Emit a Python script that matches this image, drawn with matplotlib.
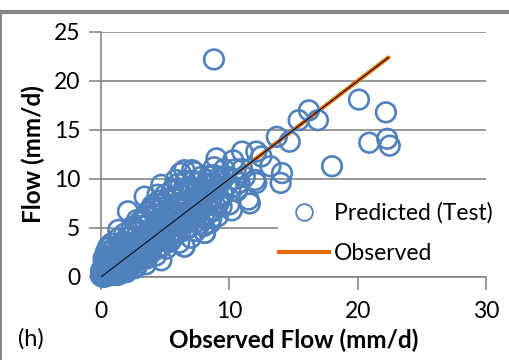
import matplotlib
matplotlib.use("Agg")
import matplotlib.pyplot as plt
from matplotlib.lines import Line2D

plt.rcParams['font.family'] = ['Lato', 'DejaVu Sans']

# Predicted (Test) scatter: observed (x) vs predicted (y)
pred_x = [0.0, 0.1, 0.2, 0.3, 0.1, 0.4, 0.5, 0.2, 0.6, 0.7, 0.3, 0.8, 0.9, 0.5, 1.0, 1.1, 0.4, 0.6,
          1.2, 1.3, 1.5, 1.4, 1.6, 0.8, 1.8, 1.9, 1.7, 2.0, 2.1, 2.2, 2.4, 1.35, 2.1, 2.3, 2.5, 2.6,
          2.8, 2.9, 3.0, 3.1, 3.2, 3.4, 3.3, 3.5, 3.6, 3.7, 3.8, 3.9, 4.0, 4.1, 4.2, 4.3, 4.4, 4.5,
          4.7, 4.6, 4.7, 4.8, 4.9, 5.0, 5.1, 5.2, 5.3, 5.4, 5.5, 5.6, 5.7, 5.8, 5.9, 6.0, 6.1, 6.2,
          6.3, 6.4, 6.5, 6.5, 6.6, 6.7, 6.8, 6.9, 7.0, 7.1, 7.3, 7.2, 7.3, 7.4, 7.5, 7.6, 7.7, 7.8,
          8.0, 8.1, 8.2, 8.3, 8.4, 8.5, 8.6, 8.7, 8.8, 8.9, 9.0, 9.1, 9.2, 9.3, 9.5, 9.6, 9.8, 10.0,
          10.2, 10.3, 10.4, 10.6, 10.8, 11.0, 11.0, 11.2, 11.5, 11.6, 12.0, 12.1, 12.5, 12.1, 13.2,
          13.7, 14.0, 14.1, 14.7, 15.4, 16.2, 16.9, 18.0, 20.1, 20.9, 22.2, 22.3, 22.5, 8.8, 2.65,
          0.57, 6.5, 8.1,
          1.0, 1.2, 1.5, 1.8, 2.0, 2.3, 2.5, 2.7, 3.0, 3.2, 3.4, 3.6, 3.8, 4.0, 4.2, 4.4, 4.6, 4.8,
          5.0, 5.2, 5.4, 5.6, 5.8, 6.0, 6.2, 6.4, 6.6, 6.8, 7.0, 7.2, 7.4, 7.6, 7.8, 8.0, 8.2, 8.4,
          8.6, 8.8, 9.0, 9.4,
          2.0, 2.6, 3.0, 3.5, 4.0, 4.5, 5.0, 5.5, 6.0, 6.6, 7.0, 7.8,
          1.6, 2.2, 2.9, 3.3, 3.9, 4.5, 5.0, 5.6, 6.2, 6.8, 7.4, 8.0, 8.6, 9.4,
          0.1, 0.2, 0.3, 0.0, 0.5, 0.7, 0.3, 0.9, 0.6, 1.0, 0.2, 1.3, 0.8, 1.1, 1.5,
          1.4, 2.0, 2.4, 2.8, 3.1, 3.6, 3.9, 4.3, 4.8, 5.3, 5.8, 6.3, 6.7, 7.1, 7.7, 8.3, 8.9, 9.2,
          1.3, 1.8, 2.4, 2.8, 3.6, 4.2, 4.9, 5.3, 5.9, 6.4, 7.2, 7.6, 8.3, 8.8, 9.7, 10.1, 10.5,
          3.8, 4.4, 5.1, 5.7, 6.1, 6.9, 7.5, 8.1]
pred_y = [0.1, 0.3, 0.0, 0.5, 0.8, 0.2, 0.9, 1.2, 0.4, 1.3, 1.6, 0.7, 1.8, 2.1, 1.1, 0.5, 2.6, 3.0,
          2.3, 1.5, 0.9, 2.9, 2.0, 3.4, 1.3, 2.6, 3.6, 3.1, 1.8, 0.8, 2.4, 4.8, 6.7, 4.2, 3.5, 1.5,
          2.9, 4.6, 2.1, 5.2, 3.8, 8.2, 6.0, 1.3, 4.4, 2.8, 5.6, 7.0, 3.4, 4.9, 6.3, 2.2, 8.4, 5.5,
          9.4, 3.9, 1.7, 7.1, 4.6, 6.0, 2.9, 8.0, 5.2, 3.6, 6.8, 9.0, 4.4, 9.9, 7.5, 5.8, 3.5, 10.6,
          6.5, 8.3, 3.1, 10.9, 4.9, 7.2, 9.2, 5.7, 4.0, 10.9, 10.7, 8.0, 6.3, 4.7, 9.6, 7.0, 5.4, 8.6,
          6.1, 4.5, 9.5, 7.4, 10.3, 5.5, 8.1, 6.7, 11.2, 9.0, 12.1, 6.2, 7.6, 10.2, 8.4, 11.0, 9.3, 7.4,
          6.8, 11.9, 10.0, 8.8, 9.6, 12.8, 11.0, 10.2, 7.9, 7.5, 9.9, 12.8, 12.3, 9.6, 11.3,
          14.3, 9.6, 10.6, 13.8, 16.0, 17.0, 16.0, 11.3, 18.1, 13.7, 16.8, 14.1, 13.4, 22.2, 0.9,
          3.1, 3.1, 4.5,
          0.2, 1.0, 1.9, 2.4, 2.0, 2.9, 2.2, 3.3, 3.0, 2.6, 3.9, 3.3, 4.1, 4.4, 3.8, 5.0, 4.5, 5.4,
          4.9, 5.9, 5.0, 6.2, 5.3, 6.6, 6.0, 7.0, 6.2, 7.5, 6.8, 7.3, 6.5, 8.0, 7.6, 8.3, 7.7, 8.8,
          7.9, 9.5, 8.9, 9.8,
          4.0, 4.8, 5.6, 6.2, 7.3, 7.8, 8.4, 8.8, 9.5, 9.8, 9.0, 10.2,
          0.4, 1.2, 1.6, 1.9, 2.5, 3.0, 3.8, 4.0, 4.6, 5.0, 5.6, 5.2, 6.0, 7.2,
          0.1, 0.4, 0.2, 0.6, 0.1, 0.6, 1.0, 0.3, 1.6, 2.3, 1.9, 0.2, 2.6, 3.0, 3.3,
          0.6, 0.5, 1.6, 1.1, 2.4, 1.9, 3.0, 2.8, 3.2, 4.2, 4.6, 5.3, 5.6, 6.0, 6.6, 6.4, 7.3, 8.0,
          3.9, 4.4, 5.1, 5.8, 6.6, 7.0, 7.6, 7.0, 8.2, 8.9, 9.8, 9.0, 9.9, 10.4, 10.3, 9.1, 11.0,
          4.8, 4.2, 5.5, 5.6, 6.9, 6.4, 7.8, 8.6]

# Observed series (1:1 line)
obs = [0.0, 2.0, 5.0, 10.0, 15.0, 20.0, 22.4]

x_ticks = [0, 10, 20, 30]
y_ticks = [0, 5, 10, 15, 20, 25]

BLUE = '#4F81BD'
ORANGE = '#E46C0A'
GREY = '#868686'

fig = plt.figure(figsize=(5.1, 3.6), dpi=100)
ax = fig.add_axes([0.198, 0.2306, 0.755, 0.6806])

ax.plot(obs, obs, color=ORANGE, lw=3.0, zorder=2, solid_capstyle='round')
ax.scatter(pred_x, pred_y, s=200, facecolors='none', edgecolors=BLUE, linewidths=1.9,
           zorder=3, clip_on=False)
ax.plot(obs, obs, color='black', lw=0.7, zorder=4)

ax.set_xlim(0, 30)
ax.set_ylim(0, 25)
ax.set_xticks(x_ticks)
ax.set_yticks(y_ticks)
ax.grid(axis='y', color=GREY, lw=1.2)
ax.set_axisbelow(True)
for s in ['top', 'right']:
    ax.spines[s].set_visible(False)
for s in ['left', 'bottom']:
    ax.spines[s].set_color(GREY)
    ax.spines[s].set_linewidth(1.2)
ax.tick_params(axis='both', colors=GREY, length=9, width=1.2, direction='out',
               labelcolor='black', labelsize=16.5)
ax.tick_params(axis='y', pad=6)
ax.tick_params(axis='x', pad=8)
for lbl in ax.get_xticklabels() + ax.get_yticklabels():
    lbl.set_clip_on(False)

ax.set_xlabel('Observed Flow (mm/d)', fontsize=17.5, fontweight='bold', labelpad=5)
ax.set_ylabel('Flow (mm/d)', fontsize=17.5, fontweight='bold', labelpad=6)

handles = [Line2D([], [], ls='none', marker='o', markersize=12, markerfacecolor='none',
                  markeredgecolor=BLUE, markeredgewidth=1.3),
           Line2D([], [], color=ORANGE, lw=3)]
leg = ax.legend(handles, ['Predicted (Test)', 'Observed'], loc='lower right',
                bbox_to_anchor=(1.05, 0.0), fontsize=16.5, frameon=True, framealpha=1,
                edgecolor='white', facecolor='white', handlelength=2.2, handletextpad=0.2,
                labelspacing=0.85, borderpad=0.05)
leg.set_zorder(5)

fig.text(0.035, 0.04, '(h)', fontsize=17)

# Figure frame (panel border)
fig.add_artist(Line2D([0, 1], [0.966, 0.966], color=GREY, lw=3, transform=fig.transFigure))
fig.add_artist(Line2D([0.002, 0.002], [0, 0.966], color=GREY, lw=1.5, transform=fig.transFigure))

fig.savefig('out.png', dpi=100)
